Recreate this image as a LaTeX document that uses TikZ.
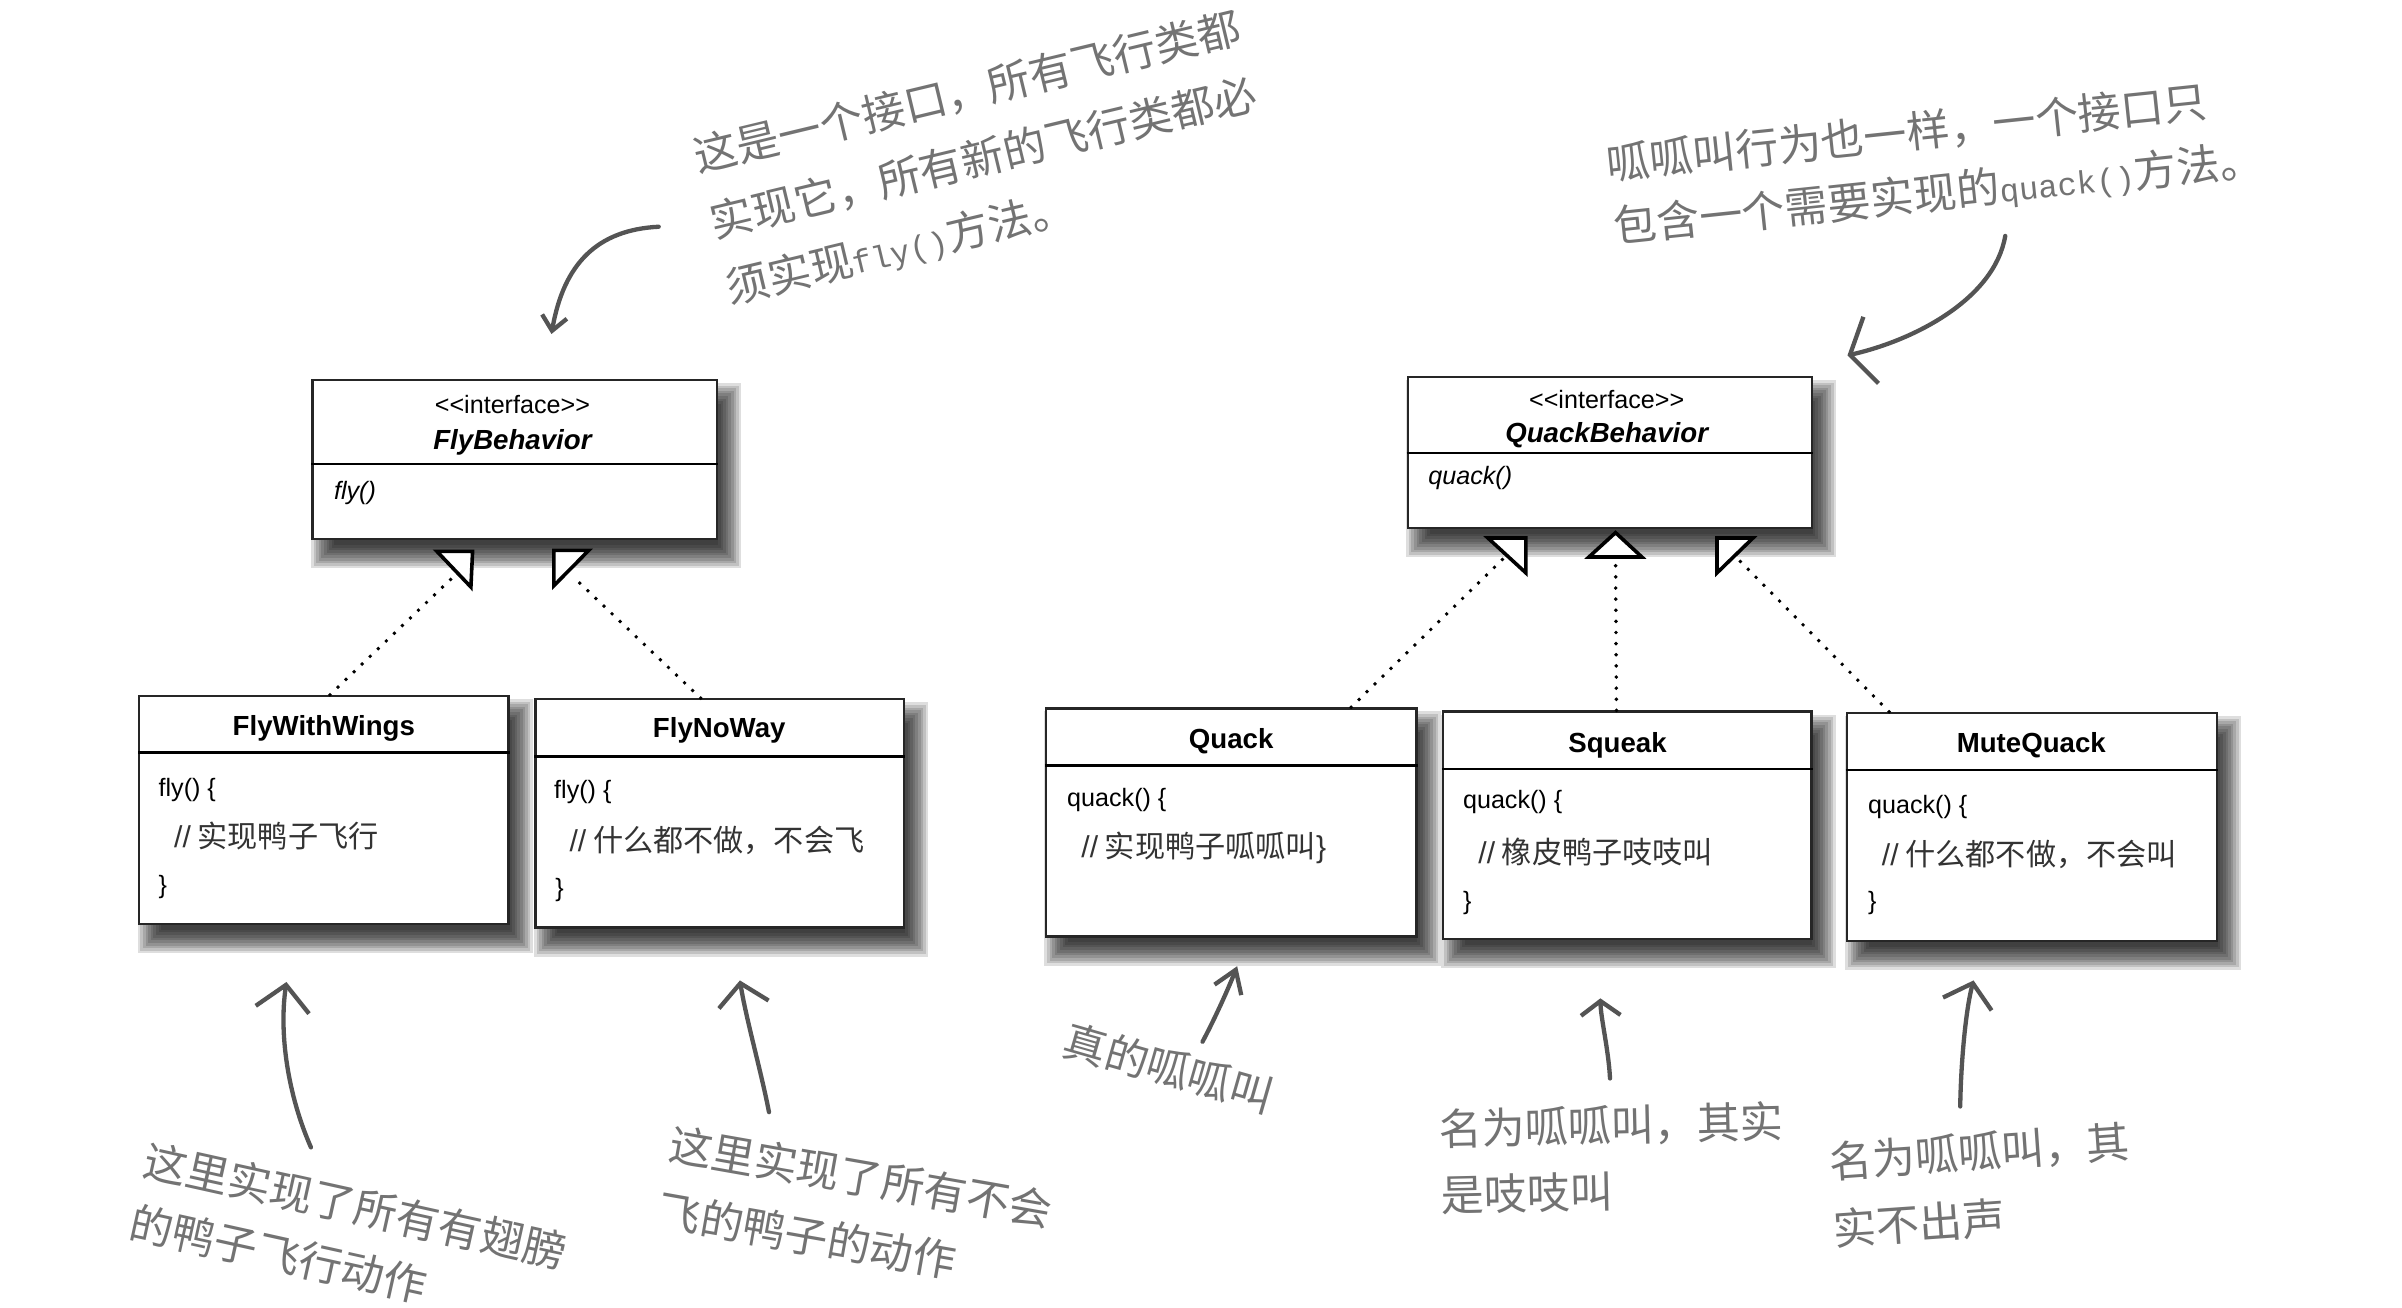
\documentclass[tikz,border=0pt]{standalone}
\usepackage{fontspec}
\setmainfont{Liberation Sans}
\newfontfamily\cjk{Noto Sans CJK SC}
\newfontfamily\codefont{Liberation Mono}[Scale=0.75]
\usetikzlibrary{arrows.meta}
\definecolor{notegray}{rgb}{0.45,0.45,0.45}
\definecolor{handgray}{rgb}{0.33,0.33,0.33}
\newcommand{\lat}[1]{{\rmfamily #1}}

% soft shadow behind a box: x1, y1, x2, y2
\newcommand{\castshadow}[4]{%
	\foreach \st in {0,...,9}{%
		\pgfmathsetmacro{\sxa}{#1+7-(8-1.7*\st)}%
		\pgfmathsetmacro{\sya}{#2+10-(8-1.7*\st)}%
		\pgfmathsetmacro{\sxb}{#3+8+(8-1.7*\st)}%
		\pgfmathsetmacro{\syb}{#4+11+(8-1.7*\st)}%
		\fill[black, opacity=0.13] (\sxa,\sya) rectangle (\sxb,\syb);
	}}

\begin{document}
\begin{tikzpicture}[x=0.015cm,y=-0.015cm,
	umlbox/.style 2 args={draw=black!85, line width=0.65pt, fill=white, inner sep=0pt, minimum width=#1*0.015cm, minimum height=#2*0.015cm},
	stereo/.style={inner sep=0pt, font=\fontsize{7}{8}\selectfont},
	ifname/.style={inner sep=0pt, font=\fontsize{7.7}{9}\selectfont\bfseries\itshape},
	clname/.style={inner sep=0pt, font=\fontsize{7.7}{9}\selectfont\bfseries},
	member/.style={anchor=west, inner sep=0pt, font=\fontsize{7}{8}\selectfont},
	absmember/.style={member, font=\fontsize{7}{8}\selectfont\itshape},
	remark/.style={anchor=west, inner sep=0pt, text=black!80, font=\cjk\fontsize{8.4}{10}\selectfont},
	note/.style={anchor=base west, align=left, inner sep=0pt, text=notegray, font=\cjk\fontsize{12}{#1}\selectfont},
	note/.default=18.8pt,
	hand/.style={draw=handgray, line width=1.2pt, line cap=round, line join=round},
	realize/.style={line width=1.1pt, dash pattern=on 0pt off 3.1pt, line cap=round},
	opentri/.style={draw=black, fill=white, line width=1pt, line join=miter}]
	\useasboundingbox (0,0) rectangle (1568,853.8);
	
	% shadows
	\castshadow{204}{248}{468}{352}
	\castshadow{919}{246}{1182.6}{344.8}
	\castshadow{90.9}{454.3}{332}{603.3}
	\castshadow{349.6}{456.5}{590}{605.5}
	\castshadow{682.8}{462.4}{924.6}{611.4}
	\castshadow{941.9}{464.5}{1182.4}{613.1}
	\castshadow{1205.6}{465.4}{1447}{614.2}
	
	% interfaces
	\node[umlbox={264}{104}] (flybeh) at (336,300) {};
	\draw[line width=0.65pt] (flybeh.west |- 0,303) -- (flybeh.east |- 0,303);
	\node[stereo] (flybeh-st) at (334.5,264.3) {<\kern0pt<interface>\kern0pt>};
	\node[ifname] (flybeh-nm) at (334.5,288.5) {FlyBehavior};
	\node[absmember] (flybeh-op) at (217.6,322) {fly()};
	
	\node[umlbox={263.7}{98.9}] (qbeh) at (1050.8,295.4) {};
	\draw[line width=0.65pt] (qbeh.west |- 0,295.9) -- (qbeh.east |- 0,295.9);
	\node[stereo] (qbeh-st) at (1048.8,261) {<\kern0pt<interface>\kern0pt>};
	\node[ifname] (qbeh-nm) at (1048.8,284) {QuackBehavior};
	\node[absmember] (qbeh-op) at (932,312) {quack()};
	
	% fly classes
	\node[umlbox={241.1}{149}] (fww) at (211.4,528.8) {};
	\draw[line width=0.65pt] (fww.west |- 0,491.3) -- (fww.east |- 0,491.3);
	\node[clname] (fww-nm) at (211.4,475.4) {FlyWithWings};
	\node[member] (fww-op) at (103.1,515.7) {fly() \{};
	\node[remark] (fww-rm) at (113.2,546) {\lat{//} 实现鸭子飞行};
	\node[member] (fww-end) at (103.1,578.8) {\}};
	
	\node[umlbox={240.4}{149}] (fnw) at (469.8,531) {};
	\draw[line width=0.65pt] (fnw.west |- 0,493.9) -- (fnw.east |- 0,493.9);
	\node[clname] (fnw-nm) at (469.5,476.5) {FlyNoWay};
	\node[member] (fnw-op) at (361.3,516.8) {fly() \{};
	\node[remark] (fnw-rm) at (371.3,548.3) {\lat{//} 什么都不做，不会飞};
	\node[member] (fnw-end) at (362,581) {\}};
	
	% quack classes
	\node[umlbox={241.8}{149}] (quack) at (803.7,536.9) {};
	\draw[line width=0.65pt] (quack.west |- 0,499.8) -- (quack.east |- 0,499.8);
	\node[clname] (quack-nm) at (803.7,484.1) {Quack};
	\node[member] (quack-op) at (696.2,522.2) {quack() \{};
	\node[remark] (quack-rm) at (705.5,553.7) {\lat{//} 实现鸭子呱呱叫\lat{\}}};
	
	\node[umlbox={240.5}{148.6}] (squeak) at (1062.2,538.8) {};
	\draw[line width=0.65pt] (squeak.west |- 0,502) -- (squeak.east |- 0,502);
	\node[clname] (squeak-nm) at (1055.9,486.3) {Squeak};
	\node[member] (squeak-op) at (954.6,523.3) {quack() \{};
	\node[remark] (squeak-rm) at (964.6,555.9) {\lat{//} 橡皮鸭子吱吱叫};
	\node[member] (squeak-end) at (954.6,589.6) {\}};
	
	\node[umlbox={241.4}{148.8}] (mute) at (1326.3,539.8) {};
	\draw[line width=0.65pt] (mute.west |- 0,502.6) -- (mute.east |- 0,502.6);
	\node[clname] (mute-nm) at (1326,486.3) {MuteQuack};
	\node[member] (mute-op) at (1219,526.6) {quack() \{};
	\node[remark] (mute-rm) at (1228,558) {\lat{//} 什么都不做，不会叫};
	\node[member] (mute-end) at (1219,589.7) {\}};
	
	% realization heads
	\draw[opentri] (285.2,359.9) -- (308.5,359.9) -- (307.4,383.2) -- cycle;
	\draw[opentri] (361.6,359.3) -- (384.3,359.3) -- (361.6,382.3) -- cycle;
	\draw[opentri] (971.3,351.2) -- (996.1,351.2) -- (996.1,374) -- cycle;
	\draw[opentri] (1054.6,347.7) -- (1071.8,363.6) -- (1037.2,363.6) -- cycle;
	\draw[opentri] (1120.8,351.2) -- (1144.3,351.2) -- (1120.8,374) -- cycle;
	\coordinate (fbl) at (296.6,375.9);
	\coordinate (fbr) at (373.5,375.9);
	\coordinate (qbl) at (981.1,364.9);
	\coordinate (qbm) at (1054.6,363.6);
	\coordinate (qbr) at (1134.5,364.9);
	
	% realization lines
	\draw[realize] (215.4,0 |- fww.north) -- (fbl);
	\draw[realize] (457.4,0 |- fnw.north) -- (fbr);
	\draw[realize] (882,0 |- quack.north) -- (qbl);
	\draw[realize] (1055.2,0 |- squeak.north) -- (qbm);
	\draw[realize] (1233.2,0 |- mute.north) -- (qbr);
	
	% notes (anchored at the start of their last line)
	\node[note=18.9pt, rotate=13.5] (n-fly) at (476.3,199) {这是一个接口，所有飞行类都\\实现它，所有新的飞行类都必\\须实现{\codefont fly()}方法。};
	\node[note=17.5pt, rotate=6] (n-quack) at (1054,158.5) {呱呱叫行为也一样，一个接口只\\包含一个需要实现的{\codefont quack()}方法。};
	\node[note=17.7pt, rotate=-12.5] (n-wings) at (83,807.5) {这里实现了所有有翅膀\\的鸭子飞行动作};
	\node[note=18.7pt, rotate=-10] (n-noway) at (427.5,800) {这里实现了所有不会\\飞的鸭子的动作};
	\node[note, rotate=-16] (n-real) at (692,688) {真的呱呱叫};
	\node[note=18.4pt, rotate=1.3] (n-squeak) at (940.2,791) {名为呱呱叫，其实\\是吱吱叫};
	\node[note=18.8pt, rotate=4] (n-mute) at (1197.3,813) {名为呱呱叫，其\\实不出声};
	
	% hand arrows
	\coordinate (a1s) at (430,148);   \coordinate (a1e) at (360,218);
	\coordinate (a2s) at (1309,154);  \coordinate (a2e) at (1206,232);
	\coordinate (a3s) at (203,749);   \coordinate (a3e) at (187,641);
	\coordinate (a4s) at (502,726);   \coordinate (a4e) at (483,640);
	\coordinate (a5s) at (785,680);   \coordinate (a5e) at (807.6,630.7);
	\coordinate (a6s) at (1051,704);  \coordinate (a6e) at (1044.7,651.7);
	\coordinate (a7s) at (1279.6,722.3); \coordinate (a7e) at (1288.3,640);
	\draw[hand, -{Straight Barb[length=4pt,width=7pt]}] (a1s) .. controls (390,150) and (368,172) .. (a1e);
	\draw[hand, -{Straight Barb[length=6pt,width=19pt]}] (a2s) .. controls (1302,195) and (1250,222) .. (a2e);
	\draw[hand, -{Straight Barb[length=7pt,width=15pt]}] (a3s) .. controls (188,715) and (182,675) .. (a3e);
	\draw[hand, -{Straight Barb[length=6pt,width=14pt]}] (a4s) .. controls (497,700) and (487,665) .. (a4e);
	\draw[hand, -{Straight Barb[length=6pt,width=8pt]}] (a5s) .. controls (793,665) and (802,645) .. (a5e);
	\draw[hand, -{Straight Barb[length=4pt,width=11pt]}] (a6s) .. controls (1050,685) and (1045,665) .. (a6e);
	\draw[hand, -{Straight Barb[length=6pt,width=14pt]}] (a7s) .. controls (1280,695) and (1283,660) .. (a7e);
\end{tikzpicture}
\end{document}
